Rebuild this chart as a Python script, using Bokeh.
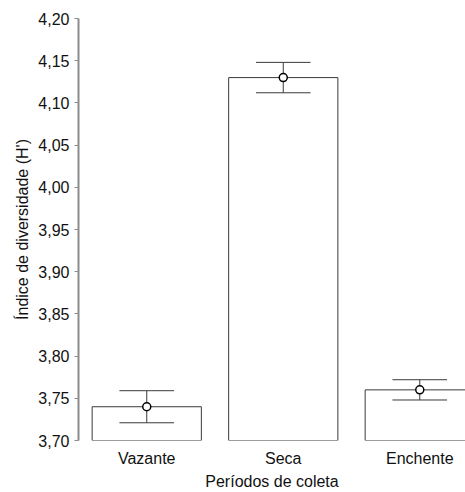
from bokeh.plotting import figure
from bokeh.models import Range1d, FixedTicker, ColumnDataSource
from bokeh.embed import file_html
from bokeh.resources import INLINE

categories = ["Vazante", "Seca", "Enchente"]
means = [3.740, 4.130, 3.760]
errors = [0.019, 0.018, 0.012]
y_ticks = [3.70, 3.75, 3.80, 3.85, 3.90, 3.95, 4.00, 4.05, 4.10, 4.15, 4.20]
y_tick_labels = ["3,70", "3,75", "3,80", "3,85", "3,90", "3,95", "4,00", "4,05", "4,10", "4,15", "4,20"]
baseline = 3.70

xs = list(range(len(categories)))
src = ColumnDataSource(dict(
    x=xs,
    top=means,
    upper=[m + e for m, e in zip(means, errors)],
    lower=[m - e for m, e in zip(means, errors)],
    cl=[x - 0.2 for x in xs],
    cr=[x + 0.2 for x in xs],
))

FONT = "Liberation Sans"

p = figure(width=465, height=492, output_backend="svg", toolbar_location=None,
           x_range=Range1d(-0.5, 2.335), y_range=Range1d(3.70, 4.20),
           min_border_left=78, min_border_right=0, min_border_top=18, min_border_bottom=52)
p.outline_line_color = None
p.xgrid.grid_line_color = None
p.ygrid.grid_line_color = None

p.vbar(x="x", top="top", bottom=baseline, width=0.8, source=src,
       fill_color="white", line_color="#3a3a3a", line_width=1)
p.segment(x0="x", x1="x", y0="lower", y1="upper", source=src, line_color="#3a3a3a", line_width=1)
p.segment(x0="cl", x1="cr", y0="upper", y1="upper", source=src, line_color="#3a3a3a", line_width=1)
p.segment(x0="cl", x1="cr", y0="lower", y1="lower", source=src, line_color="#3a3a3a", line_width=1)
p.scatter(x="x", y="top", source=src, size=8, fill_color="white", line_color="black", line_width=1.5)

p.yaxis.ticker = FixedTicker(ticks=y_ticks)
p.yaxis.major_label_overrides = {t: l for t, l in zip(y_ticks, y_tick_labels)}
p.yaxis.minor_tick_line_color = None
p.yaxis.major_tick_in = 0
p.yaxis.major_tick_out = 4
p.yaxis.axis_line_color = "#8c8c8c"
p.yaxis.axis_line_width = 2
p.yaxis.major_tick_line_color = "#8c8c8c"
p.yaxis.major_label_standoff = 5
p.yaxis.axis_label = "Índice de diversidade (H')"
p.yaxis.axis_label_text_font_style = "normal"
p.yaxis.axis_label_standoff = 4

p.xaxis.ticker = FixedTicker(ticks=xs)
p.xaxis.major_label_overrides = {x: c for x, c in zip(xs, categories)}
p.xaxis.axis_line_color = None
p.xaxis.major_tick_line_color = None
p.xaxis.minor_tick_line_color = None
p.xaxis.major_label_standoff = 3
p.xaxis.axis_label = "Períodos de coleta"
p.xaxis.axis_label_text_font_style = "normal"
p.xaxis.axis_label_standoff = 3

for ax in (p.xaxis, p.yaxis):
    ax.major_label_text_font = FONT
    ax.major_label_text_font_size = "16px"
    ax.major_label_text_color = "#111111"
    ax.axis_label_text_font = FONT
    ax.axis_label_text_font_size = "16px"
    ax.axis_label_text_color = "#111111"

open("out.html", "w").write(file_html(p, INLINE))
